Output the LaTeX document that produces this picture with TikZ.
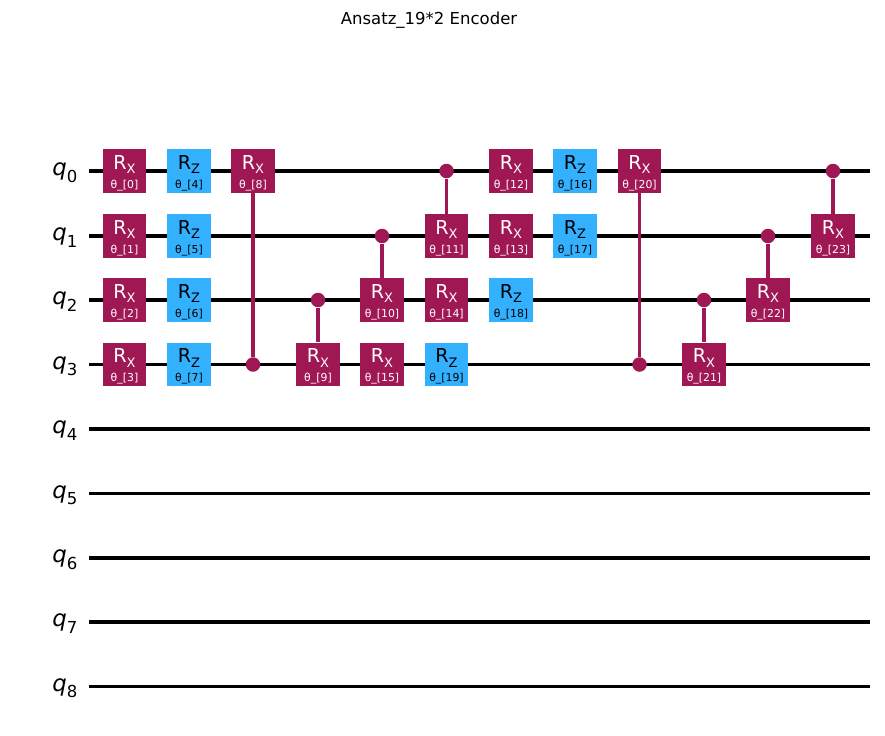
\documentclass[tikz,border=0pt]{standalone}
\usepackage{fontspec}
\setmainfont{DejaVu Sans}
\usetikzlibrary{backgrounds}
\definecolor{rxcol}{HTML}{9F1853}
\definecolor{rzcol}{HTML}{33B1FF}
\newcommand{\gsub}[1]{\raisebox{-0.22em}{\fontsize{7.4}{8}\selectfont #1}}
\newcommand{\qsub}[1]{{\itshape q}\raisebox{-0.3em}{\fontsize{9.4}{10}\selectfont #1}}
\newcommand{\rxtxt}[1]{\rule{0pt}{10.3pt}\fontsize{10.9}{11}\selectfont R\gsub{X}\\[-1.2pt]\fontsize{6.2}{7}\selectfont θ\_[#1]}
\newcommand{\rztxt}[1]{\rule{0pt}{10.3pt}\fontsize{10.9}{11}\selectfont R\gsub{Z}\\[-1.2pt]\fontsize{6.2}{7}\selectfont θ\_[#1]}

\begin{document}
\begin{tikzpicture}[
  x=0.02cm, y=-0.02cm,
  rxgate/.style={draw=none, fill=rxcol, text=white, inner sep=0pt, minimum size=0.87cm, align=center},
  rzgate/.style={draw=none, fill=rzcol, text=black, inner sep=0pt, minimum size=0.87cm, align=center},
  ctrl/.style={circle, fill=rxcol, inner sep=0pt, minimum size=0.29cm},
  ctrlline/.style={rxcol, line width=1.8pt},
  wire/.style={black, line width=1.8pt},
  qlabel/.style={font=\fontsize{13}{14}\selectfont, inner sep=0pt, yshift=-1pt},
]
  \useasboundingbox (0,0) rectangle (885,735);
  \node[font=\fontsize{9.4}{11}\selectfont, inner sep=0pt] (title) at (429,20) {Ansatz\_19*2 Encoder};

  % Qubit labels
  \node[qlabel] (q0) at (65,171)   {\qsub{0}};
  \node[qlabel] (q1) at (65,236)   {\qsub{1}};
  \node[qlabel] (q2) at (65,300)   {\qsub{2}};
  \node[qlabel] (q3) at (65,364.5) {\qsub{3}};
  \node[qlabel] (q4) at (65,429)   {\qsub{4}};
  \node[qlabel] (q5) at (65,493.5) {\qsub{5}};
  \node[qlabel] (q6) at (65,558)   {\qsub{6}};
  \node[qlabel] (q7) at (65,622)   {\qsub{7}};
  \node[qlabel] (q8) at (65,686.5) {\qsub{8}};

  % Wire ends
  \coordinate (w0a) at (89,171);   \coordinate (w0b) at (870,171);
  \coordinate (w1a) at (89,236);   \coordinate (w1b) at (870,236);
  \coordinate (w2a) at (89,300);   \coordinate (w2b) at (870,300);
  \coordinate (w3a) at (89,364.5); \coordinate (w3b) at (870,364.5);
  \coordinate (w4a) at (89,429);   \coordinate (w4b) at (870,429);
  \coordinate (w5a) at (89,493.5); \coordinate (w5b) at (870,493.5);
  \coordinate (w6a) at (89,558);   \coordinate (w6b) at (870,558);
  \coordinate (w7a) at (89,622);   \coordinate (w7b) at (870,622);
  \coordinate (w8a) at (89,686.5); \coordinate (w8b) at (870,686.5);

  % Gates
  \node[rxgate] (g0) at (124.5,171)   {\rxtxt{0}};
  \node[rxgate] (g1) at (124.5,236)   {\rxtxt{1}};
  \node[rxgate] (g2) at (124.5,300)   {\rxtxt{2}};
  \node[rxgate] (g3) at (124.5,364.5) {\rxtxt{3}};
  \node[rzgate] (g4) at (189,171)     {\rztxt{4}};
  \node[rzgate] (g5) at (189,236)     {\rztxt{5}};
  \node[rzgate] (g6) at (189,300)     {\rztxt{6}};
  \node[rzgate] (g7) at (189,364.5)   {\rztxt{7}};
  \node[rxgate] (g8) at (253,171)     {\rxtxt{8}};
  \node[rxgate] (g9) at (318,364.5)   {\rxtxt{9}};
  \node[rxgate] (g10) at (382,300)    {\rxtxt{10}};
  \node[rxgate] (g11) at (446.5,236)  {\rxtxt{11}};
  \node[rxgate] (g12) at (511,171)    {\rxtxt{12}};
  \node[rxgate] (g13) at (511,236)    {\rxtxt{13}};
  \node[rxgate] (g14) at (446.5,300)  {\rxtxt{14}};
  \node[rxgate] (g15) at (382,364.5)  {\rxtxt{15}};
  \node[rzgate] (g16) at (575,171)    {\rztxt{16}};
  \node[rzgate] (g17) at (575,236)    {\rztxt{17}};
  \node[rzgate] (g18) at (511,300)    {\rztxt{18}};
  \node[rzgate] (g19) at (446.5,364.5) {\rztxt{19}};
  \node[rxgate] (g20) at (639.5,171)  {\rxtxt{20}};
  \node[rxgate] (g21) at (704,364.5)  {\rxtxt{21}};
  \node[rxgate] (g22) at (768,300)    {\rxtxt{22}};
  \node[rxgate] (g23) at (833,236)    {\rxtxt{23}};

  % Control dots
  \node[ctrl] (c8) at (253,364.5)   {};
  \node[ctrl] (c9) at (318,300)     {};
  \node[ctrl] (c10) at (382,236)    {};
  \node[ctrl] (c11) at (446.5,171)  {};
  \node[ctrl] (c20) at (639.5,364.5) {};
  \node[ctrl] (c21) at (704,300)    {};
  \node[ctrl] (c22) at (768,236)    {};
  \node[ctrl] (c23) at (833,171)    {};

  % Wires and control lines behind the gates
  \begin{scope}[on background layer]
    \draw[wire] (w0a) -- (w0b);
    \draw[wire] (w1a) -- (w1b);
    \draw[wire] (w2a) -- (w2b);
    \draw[wire] (w3a) -- (w3b);
    \draw[wire] (w4a) -- (w4b);
    \draw[wire] (w5a) -- (w5b);
    \draw[wire] (w6a) -- (w6b);
    \draw[wire] (w7a) -- (w7b);
    \draw[wire] (w8a) -- (w8b);
    \draw[ctrlline] (c8) -- (g8);
    \draw[ctrlline] (c9) -- (g9);
    \draw[ctrlline] (c10) -- (g10);
    \draw[ctrlline] (c11) -- (g11);
    \draw[ctrlline] (c20) -- (g20);
    \draw[ctrlline] (c21) -- (g21);
    \draw[ctrlline] (c22) -- (g22);
    \draw[ctrlline] (c23) -- (g23);
  \end{scope}
\end{tikzpicture}
\end{document}
